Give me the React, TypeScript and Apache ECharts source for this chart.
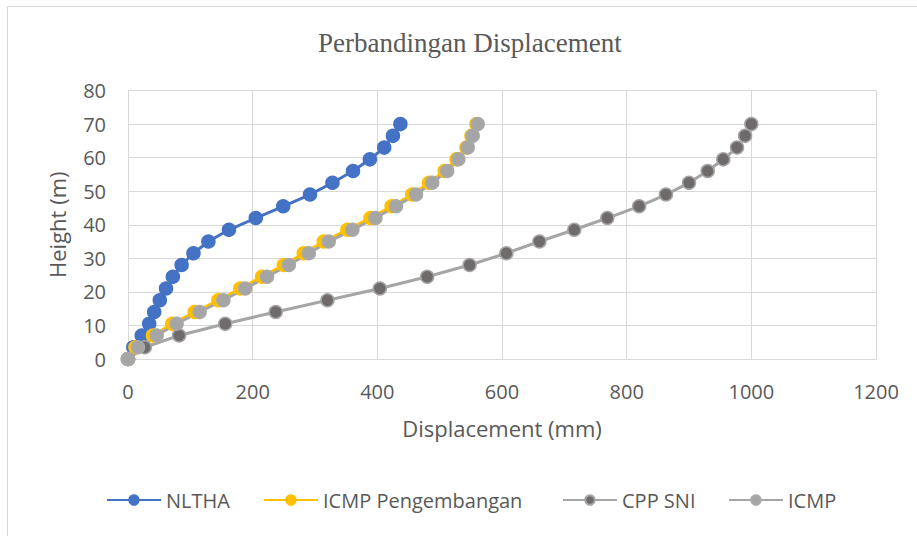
import React, { useEffect, useRef } from "react";
import * as echarts from "echarts";

const heights = [0, 3.5, 7, 10.5, 14, 17.5, 21, 24.5, 28, 31.5, 35, 38.5, 42, 45.5, 49, 52.5, 56, 59.5, 63, 66.5, 70];
const nlthaX = [0, 8.5, 22, 34, 42, 51, 61, 72, 86, 105, 129, 162, 205, 249, 292, 328, 361, 388, 411, 425, 437];
const icmpPengX = [0, 12, 40, 71, 107, 145, 180, 215, 250, 282, 314, 352, 389, 423, 456, 483, 508, 527, 543, 551, 559];
const cppSniX = [0, 27, 82, 156, 237, 320, 404, 480, 548, 607, 660, 716, 769, 820, 863, 900, 930, 955, 977, 990, 1000];
const icmpX = [0, 16, 46, 78, 115, 153, 188, 223, 258, 290, 322, 360, 397, 430, 462, 488, 512, 530, 545, 553, 561];

const seriesNames = ["NLTHA", "ICMP Pengembangan", "CPP SNI", "ICMP"];
const legendLefts = [106, 263, 562, 728];

const pair = (xs: number[]) => xs.map((x, i) => [x, heights[i]]);

export default function App() {
  const ref = useRef<HTMLDivElement>(null);
  useEffect(() => {
    const chart = echarts.init(ref.current!, null, { renderer: "svg" });
    const txt = "#595959";
    const sans = "'Open Sans', 'Noto Sans', sans-serif";
    const styles = [
      { line: "#4472C4", fill: "#4472C4", border: "#4472C4" },
      { line: "#FFC000", fill: "#FFC000", border: "#FFC000" },
      { line: "#A5A5A5", fill: "#6F6B6B", border: "#A5A5A5" },
      { line: "#A5A5A5", fill: "#A5A5A5", border: "#A9A9A9" },
    ];
    const datas = [nlthaX, icmpPengX, cppSniX, icmpX];
    chart.setOption({
      animation: false,
      backgroundColor: "#ffffff",
      title: {
        text: "Perbandingan Displacement",
        left: 318,
        top: 29,
        padding: 0,
        textStyle: { fontFamily: "'Liberation Serif', 'Times New Roman', serif", fontSize: 27, fontWeight: "normal", color: txt },
      },
      graphic: [
        {
          type: "rect",
          shape: { x: 7.5, y: 6.5, width: 1000, height: 1000 },
          style: { fill: "none", stroke: "#d9d9d9", lineWidth: 1 },
          silent: true,
        },
      ],
      grid: { left: 128, right: 41, top: 90.5, bottom: 177, containLabel: false },
      legend: seriesNames.map((n, i) => ({
        data: [n],
        left: legendLefts[i],
        top: 490,
        padding: 0,
        itemWidth: 54,
        itemHeight: 12,
        itemGap: 5,
        textStyle: { fontFamily: sans, fontSize: 20, color: txt },
      })),
      xAxis: {
        type: "value",
        min: 0,
        max: 1200,
        interval: 200,
        name: "Displacement (mm)",
        nameLocation: "middle",
        nameGap: 58,
        nameTextStyle: { fontFamily: sans, fontSize: 22, color: txt },
        axisLine: { show: true, lineStyle: { color: "#d9d9d9", width: 1 } },
        axisTick: { show: false },
        axisLabel: { margin: 22, fontFamily: sans, fontSize: 20, color: txt, formatter: (v: number) => String(v) },
        splitLine: { show: true, lineStyle: { color: "#d9d9d9", width: 1 } },
      },
      yAxis: {
        type: "value",
        min: 0,
        max: 80,
        interval: 10,
        name: "Height (m)",
        nameLocation: "middle",
        nameGap: 60,
        nameRotate: 90,
        nameTextStyle: { fontFamily: sans, fontSize: 22, color: txt },
        axisLine: { show: false },
        axisTick: { show: false },
        axisLabel: { margin: 22, fontFamily: sans, fontSize: 20, color: txt, formatter: (v: number) => String(v) },
        splitLine: { show: true, lineStyle: { color: "#d9d9d9", width: 1 } },
      },
      series: seriesNames.map((n, i) => ({
        name: n,
        type: "line",
        data: pair(datas[i]),
        symbol: "circle",
        symbolSize: 13,
        showSymbol: true,
        lineStyle: { color: styles[i].line, width: 3 },
        itemStyle: { color: styles[i].fill, borderColor: styles[i].border, borderWidth: 1.5 },
        emphasis: { disabled: true },
      })),
    });
    return () => chart.dispose();
  }, []);
  return <div ref={ref} style={{ position: "fixed", left: 0, top: 0, width: 917, height: 536 }} />;
}
